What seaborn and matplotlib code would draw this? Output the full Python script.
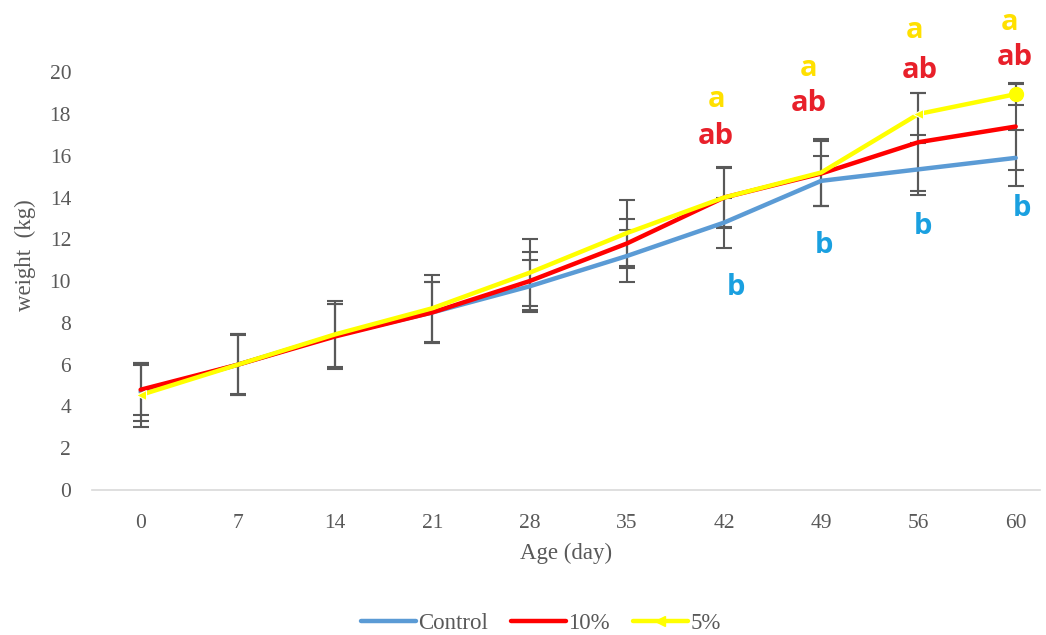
import pandas as pd
import numpy as np
import matplotlib.pyplot as plt
import seaborn as sns

sns.set_theme(style="white")
plt.rcParams['font.family'] = ['Liberation Serif', 'DejaVu Serif']

# data
ages = ['0', '7', '14', '21', '28', '35', '42', '49', '56', '60']
control = [4.7, 6.0, 7.4, 8.5, 9.75, 11.2, 12.8, 14.8, 15.35, 15.9]
ten_pct = [4.8, 6.0, 7.35, 8.5, 10.0, 11.8, 14.0, 15.15, 16.65, 17.4]
five_pct = [4.55, 6.0, 7.45, 8.7, 10.4, 12.3, 14.0, 15.2, 18.0, 18.95]
sd_control = [1.4, 1.45, 1.5, 1.45, 1.25, 1.25, 1.2, 1.2, 1.25, 1.35]
sd_ten = [1.2, 1.4, 1.55, 1.45, 1.4, 1.15, 1.45, 1.55, 2.35, 2.1]
sd_five = [1.55, 1.45, 1.6, 1.6, 1.6, 1.6, 1.4, 1.6, 1.0, 0.5]

groups = ['Control', '10%', '5%']
colors = {'Control': '#5B9BD5', '10%': '#FF0000', '5%': '#FFFF00'}

# significance letters: (age index, y, text, colour, x shift)
letters = [
    (6, 18.7, 'a', '#FFE000', -0.08), (6, 16.9, 'ab', '#E8202A', -0.08), (6, 9.7, 'b', '#1AA0E0', 0.12),
    (7, 20.2, 'a', '#FFE000', -0.13), (7, 18.5, 'ab', '#E8202A', -0.13), (7, 11.7, 'b', '#1AA0E0', 0.03),
    (8, 22.0, 'a', '#FFE000', -0.04), (8, 20.1, 'ab', '#E8202A', 0.01), (8, 12.6, 'b', '#1AA0E0', 0.05),
    (9, 22.4, 'a', '#FFE000', -0.06), (9, 20.7, 'ab', '#E8202A', -0.01), (9, 13.5, 'b', '#1AA0E0', 0.06),
]

pos = np.arange(len(ages))
df = pd.DataFrame({
    'pos': np.tile(pos, 3),
    'weight': control + ten_pct + five_pct,
    'sd': sd_control + sd_ten + sd_five,
    'group': np.repeat(groups, len(ages)),
})

fig = plt.figure(figsize=(10.46, 6.35), dpi=100)
ax = fig.add_axes([92 / 1046, (635 - 490) / 635, (1040 - 92) / 1046, 470 / 635])

# error bars first, behind the lines
for g in groups:
    sub = df[df['group'] == g]
    ax.errorbar(sub['pos'], sub['weight'], yerr=sub['sd'], fmt='none',
                ecolor='#595959', elinewidth=1.5, capsize=6, capthick=1.5, zorder=1)

sns.lineplot(data=df, x='pos', y='weight', hue='group', palette=colors,
             hue_order=groups, linewidth=3.2, ax=ax, legend=False, zorder=3)
ax.lines[-1].set_marker('<')
ax.lines[-1].set_markevery([0, 8])
ax.lines[-1].set_markersize(7)
ax.plot(pos[-1], five_pct[-1], 'o', color='#FFFF00', markersize=10, zorder=4)

for i, y, txt, c, dx in letters:
    ax.text(pos[i] + dx, y, txt, color=c, fontsize=21, fontweight='bold',
            ha='center', va='center', family=['Open Sans', 'DejaVu Sans'], clip_on=False)

ax.set_xlim(-0.5, 9.25)
ax.set_ylim(0, 22.5)
ax.set_yticks(range(0, 21, 2))
ax.set_xticks(pos)
ax.set_xticklabels(ages)
ax.tick_params(axis='both', labelsize=15.5, colors='#595959', length=0)
ax.tick_params(axis='x', pad=17)
ax.tick_params(axis='y', pad=15)
ax.set_xlabel('Age (day)', fontsize=16.5, color='#595959', labelpad=7)
ax.set_ylabel('weight  (kg)', fontsize=16.5, color='#595959', labelpad=10)
for s in ['top', 'right', 'left']:
    ax.spines[s].set_visible(False)
ax.spines['bottom'].set_color('#D9D9D9')
ax.spines['bottom'].set_linewidth(1.2)

handles = [
    plt.Line2D([], [], color=colors['Control'], lw=3.2),
    plt.Line2D([], [], color=colors['10%'], lw=3.2),
    plt.Line2D([], [], color=colors['5%'], lw=3.2, marker='<', markevery=[0], markersize=7),
]
fig.legend(handles, groups, loc='center', bbox_to_anchor=(0.517, 0.018), ncol=3,
           frameon=False, fontsize=16.5, handlelength=2.4, columnspacing=1.0,
           handletextpad=0.1, labelcolor='#595959')

fig.savefig('out.png', dpi=100)
